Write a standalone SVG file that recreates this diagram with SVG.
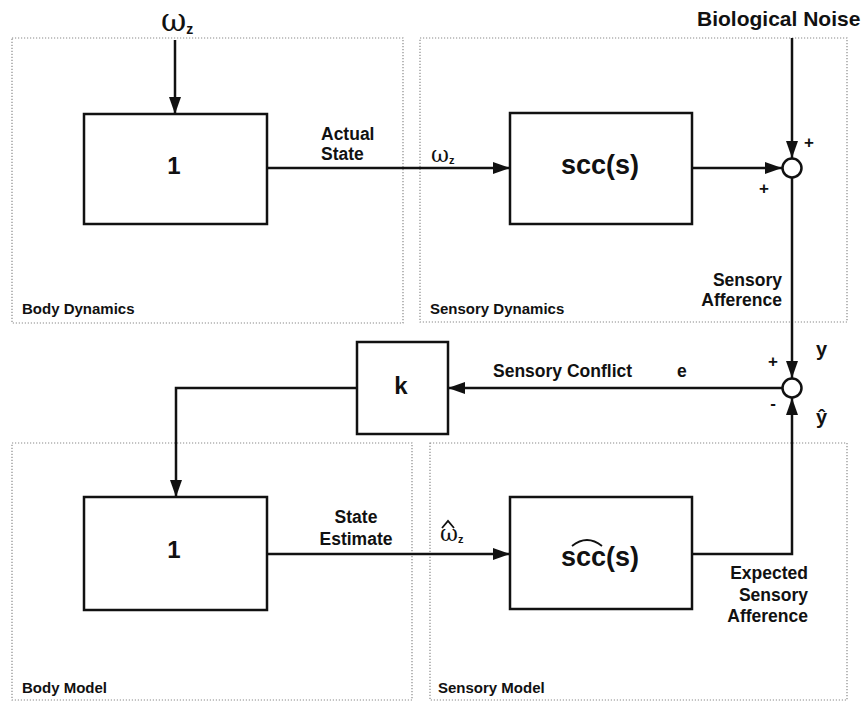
<svg xmlns="http://www.w3.org/2000/svg" width="863" height="703" viewBox="0 0 863 703">
  <style>
    .frame { fill: none; stroke: #8a8a8a; stroke-width: 1.2; stroke-dasharray: 1.2 1.8; }
    .block { fill: #fff; stroke: #111; stroke-width: 2.5; }
    .sum { fill: #fff; stroke: #111; stroke-width: 2.5; }
    .wire { fill: none; stroke: #111; stroke-width: 2.5; }
    .hat { fill: none; stroke: #111; stroke-width: 1.8; }
    .t { font-family: "Liberation Sans", Arial, sans-serif; font-weight: bold; fill: #111; }
    .lbl { font-size: 17.5px; }
    .frm { font-size: 15px; }
    .big { font-size: 24px; }
    .sign { font-size: 17px; }
    .greek { font-family: "DejaVu Serif", "Liberation Serif", serif; fill: #111; }
    .sub { font-family: "Liberation Sans", Arial, sans-serif; font-weight: bold; }
  </style>
  <defs>
    <marker id="arrow" markerUnits="userSpaceOnUse" markerWidth="17" markerHeight="12" viewBox="0 0 17 12" refX="17" refY="6" orient="auto">
      <path d="M0,0 L17,6 L0,12 z" fill="#111"/>
    </marker>
  </defs>

  <rect width="863" height="703" fill="#fff"/>

  <!-- subsystem frames -->
  <g id="frame-body-dynamics">
    <rect class="frame" x="12" y="38" width="391" height="285"/>
    <text class="t frm" x="22" y="314">Body Dynamics</text>
  </g>
  <g id="frame-sensory-dynamics">
    <rect class="frame" x="420" y="38" width="427" height="284"/>
    <text class="t frm" x="430" y="314">Sensory Dynamics</text>
  </g>
  <g id="frame-body-model">
    <rect class="frame" x="12" y="443" width="400" height="257"/>
    <text class="t frm" x="22" y="693">Body Model</text>
  </g>
  <g id="frame-sensory-model">
    <rect class="frame" x="430" y="443" width="417" height="257"/>
    <text class="t frm" x="438" y="693">Sensory Model</text>
  </g>

  <!-- connectors -->
  <g id="connectors">
    <path class="wire" d="M175 40 V114" marker-end="url(#arrow)"/>
    <path class="wire" d="M267 168 H510" marker-end="url(#arrow)"/>
    <path class="wire" d="M692 168 H782" marker-end="url(#arrow)"/>
    <path class="wire" d="M792 38 V158" marker-end="url(#arrow)"/>
    <path class="wire" d="M792 178 V378" marker-end="url(#arrow)"/>
    <path class="wire" d="M782 388 H448" marker-end="url(#arrow)"/>
    <path class="wire" d="M357 388 H176 V497" marker-end="url(#arrow)"/>
    <path class="wire" d="M267 554 H510" marker-end="url(#arrow)"/>
    <path class="wire" d="M692 554 H792 V398" marker-end="url(#arrow)"/>
  </g>

  <!-- blocks -->
  <g id="body-dynamics">
    <rect class="block" x="84" y="114" width="183" height="110"/>
    <text class="t big" x="174" y="174" text-anchor="middle">1</text>
  </g>
  <g id="sensory-dynamics">
    <rect class="block" x="510" y="113" width="182" height="111"/>
    <text class="t" x="600" y="174" text-anchor="middle" font-size="27">scc(s)</text>
  </g>
  <g id="gain-k">
    <rect class="block" x="357" y="342" width="91" height="92"/>
    <text class="t big" x="401" y="394" text-anchor="middle">k</text>
  </g>
  <g id="body-model">
    <rect class="block" x="84" y="497" width="183" height="113"/>
    <text class="t big" x="174" y="558" text-anchor="middle">1</text>
  </g>
  <g id="sensory-model">
    <rect class="block" x="510" y="497" width="182" height="112"/>
    <text class="t" x="600" y="566" text-anchor="middle" font-size="27">scc(s)</text>
    <path class="hat" d="M572 546 Q587 534 602 546"/>
  </g>

  <!-- summing junctions -->
  <g id="sum-afference">
    <circle class="sum" cx="792" cy="168" r="9.5"/>
    <text class="t sign" x="809" y="148" text-anchor="middle">+</text>
    <text class="t sign" x="764" y="194" text-anchor="middle">+</text>
  </g>
  <g id="sum-conflict">
    <circle class="sum" cx="792" cy="388" r="9.5"/>
    <text class="t sign" x="773" y="367" text-anchor="middle">+</text>
    <text class="t sign" x="773" y="409" text-anchor="middle">-</text>
  </g>

  <!-- signal labels -->
  <g id="labels">
    <text class="greek" x="161" y="31" font-size="31">ω<tspan class="sub" font-size="14" dy="3">z</tspan></text>

    <text class="t" x="697" y="26" font-size="21">Biological Noise</text>

    <text class="t lbl" x="321" y="140">Actual</text>
    <text class="t lbl" x="321" y="160">State</text>

    <text class="greek" x="431" y="162" font-size="22">ω<tspan class="sub" font-size="11" dy="2">z</tspan></text>

    <text class="t lbl" x="782" y="286" text-anchor="end">Sensory</text>
    <text class="t lbl" x="782" y="306" text-anchor="end">Afference</text>

    <text class="t" x="816" y="356" font-size="20">y</text>
    <text class="t" x="816" y="424" font-size="20">ŷ</text>

    <text class="t lbl" x="493" y="377">Sensory Conflict</text>
    <text class="t lbl" x="677" y="377">e</text>

    <text class="t lbl" x="356" y="523" text-anchor="middle">State</text>
    <text class="t lbl" x="356" y="545" text-anchor="middle">Estimate</text>

    <text class="greek" x="440" y="541" font-size="22">ω<tspan class="sub" font-size="11" dy="2">z</tspan></text>
    <path class="hat" d="M442 528 L448 521 L454 528" stroke-width="1.5"/>

    <text class="t lbl" x="808" y="579" text-anchor="end">Expected</text>
    <text class="t lbl" x="808" y="601" text-anchor="end">Sensory</text>
    <text class="t lbl" x="808" y="622" text-anchor="end">Afference</text>
  </g>
</svg>
